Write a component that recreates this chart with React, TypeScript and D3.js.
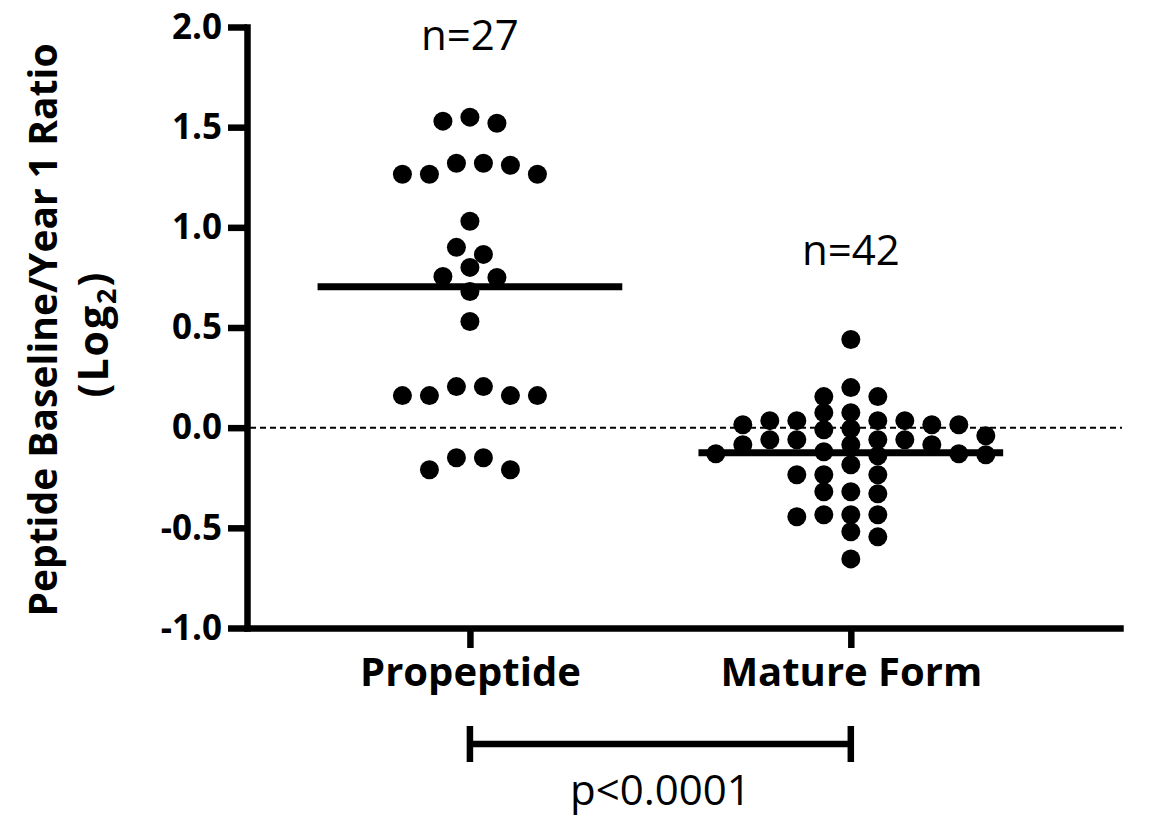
import React, { useEffect, useRef } from 'react';
import * as d3 from 'd3';

// values (log2 ratio), grouped roughly by row, left to right
const categories = ['Propeptide', 'Mature Form'];
const propeptide = [
  1.53, 1.52, 1.55,
  1.32, 1.265, 1.265, 1.265, 1.31, 1.32,
  1.03,
  0.865, 0.9,
  0.8, 0.75, 0.755,
  0.68,
  0.53,
  0.205, 0.16, 0.16, 0.16, 0.16, 0.205,
  -0.15, -0.21, -0.21, -0.15,
];
const matureForm = [
  0.44,
  0.2,
  0.155, 0.155,
  0.075, 0.075, 0.035, 0.035, 0.035, 0.035,
  0.015, 0.015, 0.015,
  -0.005, -0.01, -0.04,
  -0.06, -0.06, -0.06, -0.06,
  -0.085, -0.085, -0.085,
  -0.12, -0.13, -0.14, -0.135, -0.13,
  -0.185,
  -0.235, -0.235, -0.235,
  -0.32, -0.33, -0.32,
  -0.435, -0.435, -0.445, -0.435,
  -0.52, -0.545,
  -0.655,
];
const yTicks = [-1.0, -0.5, 0.0, 0.5, 1.0, 1.5, 2.0];
const yTitle = 'Peptide Baseline/Year 1 Ratio';
const pLabel = 'p<0.0001';

const W = 1154;
const H = 817;
const FONT = "'Open Sans', 'DejaVu Sans', sans-serif";
const R = 9.5;
const SLOT = 27;

// greedy scatter-dot layout: each dot takes the nearest free slot (half slot steps),
// then clean rows are centred on the category like Prism does
function swarmOffsets(values: number[], y: d3.ScaleLinear<number, number>) {
  const sameGap = 1.6 * R;
  const halfGap = 1.9 * R;
  const order = d3.range(values.length).sort((a, b) => d3.descending(values[a], values[b]));
  const placed: { o: number; py: number }[] = [];
  const out: number[] = new Array(values.length).fill(0);
  let left = 0, right = 0;
  for (const i of order) {
    const py = y(values[i]);
    const fits = (o: number) => placed.every(p => {
      const dx = Math.abs(p.o - o), dy = Math.abs(p.py - py);
      return dx > 0.75 || (dx > 0.25 ? dy >= halfGap : dy >= sameGap);
    });
    for (let k = 0; k <= 60; k++) {
      const m = k / 2;
      const sides = m === 0 ? [0] : left <= right ? [-m, m] : [m, -m];
      const o = sides.find(fits);
      if (o !== undefined) {
        out[i] = o;
        placed.push({ o, py });
        if (o < 0) left++;
        else if (o > 0) right++;
        break;
      }
    }
  }

  // split into rows and centre the ones that are a plain run of slots
  let row: number[] = [];
  const flush = () => {
    if (row.length > 1) {
      const offs = row.map(i => out[i]).sort(d3.ascending);
      const plain = offs.every((o, j) => j === 0 || o - offs[j - 1] === 1);
      if (plain) {
        const shift = Math.round((d3.mean(offs) as number) * 2) / 2;
        row.forEach(i => { out[i] -= shift; });
      }
    }
    row = [];
  };
  for (const i of order) {
    if (row.length && y(values[i]) - y(values[row[0]]) >= halfGap) flush();
    row.push(i);
  }
  flush();
  return out;
}

function App() {
  const ref = useRef<SVGSVGElement>(null);

  useEffect(() => {
    const svg = d3.select(ref.current);
    svg.selectAll('*').remove();

    const y = d3.scaleLinear().domain([-1, 2]).range([628, 27]);
    const x = d3.scalePoint<string>().domain(categories).range([247, 1120]).padding(0.646).align(0.453);
    const groups = [propeptide, matureForm];

    // zero reference line
    svg.append('line')
      .attr('x1', 250).attr('x2', 1122)
      .attr('y1', y(0)).attr('y2', y(0))
      .attr('stroke', '#000').attr('stroke-width', 2).attr('stroke-dasharray', '6 4');

    // y axis
    const yAxis = svg.append('g').attr('transform', `translate(${x.range()[0]},0)`)
      .call(d3.axisLeft(y).tickValues(yTicks).tickFormat(d => (+d).toFixed(1)).tickSize(19).tickSizeOuter(0).tickPadding(6));
    yAxis.select('.domain').attr('stroke-width', 6.5).attr('stroke-linecap', 'square');
    yAxis.selectAll('.tick line').attr('stroke-width', 6.5);
    yAxis.selectAll('.tick text').attr('font-family', FONT).attr('font-weight', 700).attr('font-size', 35).attr('fill', '#000');

    // x axis
    const xAxis = svg.append('g').attr('transform', `translate(0,${y(-1)})`)
      .call(d3.axisBottom(x).tickSize(20).tickSizeOuter(0).tickPadding(10));
    xAxis.select('.domain').attr('stroke-width', 6.5).attr('stroke-linecap', 'square');
    xAxis.selectAll('.tick line').attr('stroke-width', 6.5);
    xAxis.selectAll('.tick text').attr('font-family', FONT).attr('font-weight', 700).attr('font-size', 40).attr('fill', '#000');

    // y title
    svg.append('text')
      .attr('transform', 'translate(57,330) rotate(-90)')
      .attr('text-anchor', 'middle')
      .attr('font-family', FONT).attr('font-weight', 700).attr('font-size', 39)
      .text(yTitle);
    const sub = svg.append('text')
      .attr('transform', 'translate(108,334) rotate(-90)')
      .attr('text-anchor', 'middle')
      .attr('font-family', FONT).attr('font-weight', 700).attr('font-size', 41)
      .attr('letter-spacing', 2);
    sub.append('tspan').text('(Log');
    sub.append('tspan').attr('font-size', 27).attr('dy', 8).text('2');
    sub.append('tspan').attr('dy', -8).text(')');

    // dots and means
    groups.forEach((vals, gi) => {
      const cx = x(categories[gi]) as number;
      const offs = swarmOffsets(vals, y);
      svg.append('g').selectAll('circle').data(vals).join('circle')
        .attr('cx', (_, i) => cx + offs[i] * SLOT)
        .attr('cy', d => y(d))
        .attr('r', R)
        .attr('fill', '#000');
      const m = d3.mean(vals) as number;
      svg.append('line')
        .attr('x1', cx - 0.4 * x.step()).attr('x2', cx + 0.4 * x.step())
        .attr('y1', y(m)).attr('y2', y(m))
        .attr('stroke', '#000').attr('stroke-width', 7);
    });

    // n labels
    svg.append('text').attr('x', x(categories[0]) as number).attr('y', 50)
      .attr('text-anchor', 'middle').attr('font-family', FONT).attr('font-size', 42)
      .text(`n=${propeptide.length}`);
    svg.append('text').attr('x', x(categories[1]) as number).attr('y', 265)
      .attr('text-anchor', 'middle').attr('font-family', FONT).attr('font-size', 42)
      .text(`n=${matureForm.length}`);

    // significance bracket
    const x0 = x(categories[0]) as number, x1 = x(categories[1]) as number;
    const by = 744;
    svg.append('path')
      .attr('d', `M${x0},${by - 18}V${by + 18}M${x0},${by}H${x1}M${x1},${by - 18}V${by + 18}`)
      .attr('fill', 'none').attr('stroke', '#000').attr('stroke-width', 6.5);
    svg.append('text').attr('x', (x0 + x1) / 2).attr('y', 805)
      .attr('text-anchor', 'middle').attr('font-family', FONT).attr('font-size', 42)
      .text(pLabel);
  }, []);

  return (
    <svg
      ref={ref}
      width={W}
      height={H}
      style={{ position: 'absolute', left: 0, top: 0, background: '#fff' }}
    />
  );
}

export default App;
